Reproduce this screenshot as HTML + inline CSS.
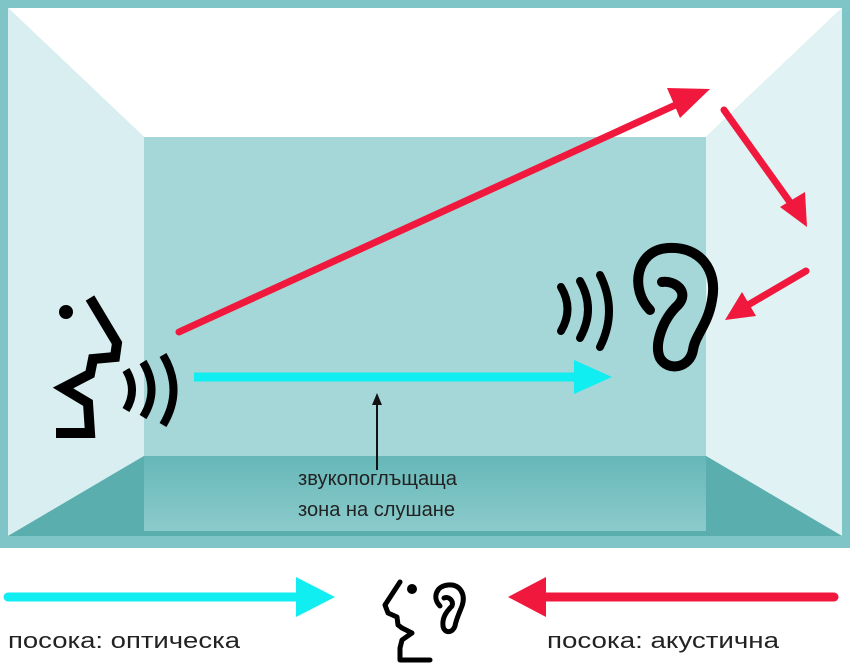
<!DOCTYPE html>
<html><head><meta charset="utf-8"><style>
html,body{margin:0;padding:0;background:#fff;}
svg{display:block}
text{font-family:"Liberation Sans",sans-serif;}
</style></head><body>
<svg width="850" height="670" viewBox="0 0 850 670" xmlns="http://www.w3.org/2000/svg">
<defs>
<linearGradient id="fl" x1="0" y1="0" x2="0" y2="1">
<stop offset="0" stop-color="#66b7b8"/><stop offset="1" stop-color="#8ccbcc"/>
</linearGradient>
</defs>
<rect x="0" y="0" width="850" height="548" fill="#7fc4c6"/>
<polygon points="8,8 842,8 706,137 144,137" fill="#ffffff"/>
<polygon points="8,8 144,137 144,456 8,536" fill="#d9eef0"/>
<polygon points="842,8 706,137 706,456 842,536" fill="#e0f2f3"/>
<polygon points="144,456 706,456 842,536 8,536" fill="#5aaeae"/>
<rect x="144" y="456" width="562" height="75" fill="url(#fl)"/>
<rect x="144" y="137" width="562" height="319" fill="#a6d7d8"/>

<g stroke="#f0183c" stroke-width="7" stroke-linecap="round" fill="#f0183c">
<line x1="179" y1="332" x2="682" y2="102"/>
<line x1="724" y1="110" x2="792" y2="205"/>
<line x1="806" y1="271" x2="748" y2="305"/>
</g>
<polygon points="710,89 667,88 680,118" fill="#f0183c"/>
<polygon points="807,227 780,207 805,192" fill="#f0183c"/>
<polygon points="725,320 742,292 756,316" fill="#f0183c"/>
<line x1="194" y1="377" x2="578" y2="377" stroke="#10eef2" stroke-width="9"/>
<polygon points="612,377 574,360 574,394" fill="#10eef2"/>
<line x1="377" y1="470" x2="377" y2="402" stroke="#111" stroke-width="2"/>
<polygon points="377,393 372,405 382,405" fill="#111"/>
<text x="298" y="485" font-size="20" fill="#222" textLength="159" lengthAdjust="spacingAndGlyphs">звукопоглъщаща</text>
<text x="298" y="516" font-size="20" fill="#222" textLength="157" lengthAdjust="spacingAndGlyphs">зона на слушане</text>

<g stroke="#000" stroke-width="10" fill="none" stroke-linejoin="miter">
<circle cx="66" cy="312" r="5" fill="#000" stroke-width="4"/>
<polyline points="90,298 117,343 115,357 93,359 90,374 63,388 88,403 90,433 56,433"/>
<path d="M126,370 Q138,390 126,410" stroke-width="8"/>
<path d="M143,362 Q160,390 143,417" stroke-width="8"/>
<path d="M163,355 Q184,390 163,425" stroke-width="8"/>
</g>
<g stroke="#000" stroke-width="10" fill="none" stroke-linecap="round" stroke-linejoin="round">
<path d="M650,310 C630,290 635,250 668,248 C700,246 718,270 712,300 C708,325 695,335 693,350 C690,368 668,372 660,358 C654,345 662,320 678,305 C690,292 675,280 662,282"/>
<path d="M561,287 Q574,309 561,331" stroke-width="8"/>
<path d="M580,281 Q596,309 580,338" stroke-width="8"/>
<path d="M600,275 Q618,311 600,347" stroke-width="8"/>
</g>

<line x1="8" y1="597" x2="300" y2="597" stroke="#10eef2" stroke-width="9" stroke-linecap="round"/>
<polygon points="335,597 296,577 296,617" fill="#10eef2"/>
<line x1="545" y1="597" x2="834" y2="597" stroke="#f0183c" stroke-width="9" stroke-linecap="round"/>
<polygon points="508,597 546,577 546,617" fill="#f0183c"/>
<g stroke="#000" stroke-width="5" fill="none" stroke-linejoin="round" stroke-linecap="round">
<circle cx="412" cy="589" r="2.5" fill="#000"/>
<polyline points="400,582 385,605 388,613 397,617 398,625 402,628 412,633 402,640 400,648 400,660 430,660"/>
<path d="M440,606 C432,598 436,586 448,585 C460,584 466,594 462,606 C458,616 456,620 455,626 C452,634 444,633 443,626 C442,618 446,612 452,606 C454,600 448,596 444,598"/>
</g>
<text x="8" y="648" font-size="22" fill="#222" textLength="232" lengthAdjust="spacingAndGlyphs">посока: оптическа</text>
<text x="547" y="648" font-size="22" fill="#222" textLength="232" lengthAdjust="spacingAndGlyphs">посока: акустична</text>
</svg>
</body></html>
